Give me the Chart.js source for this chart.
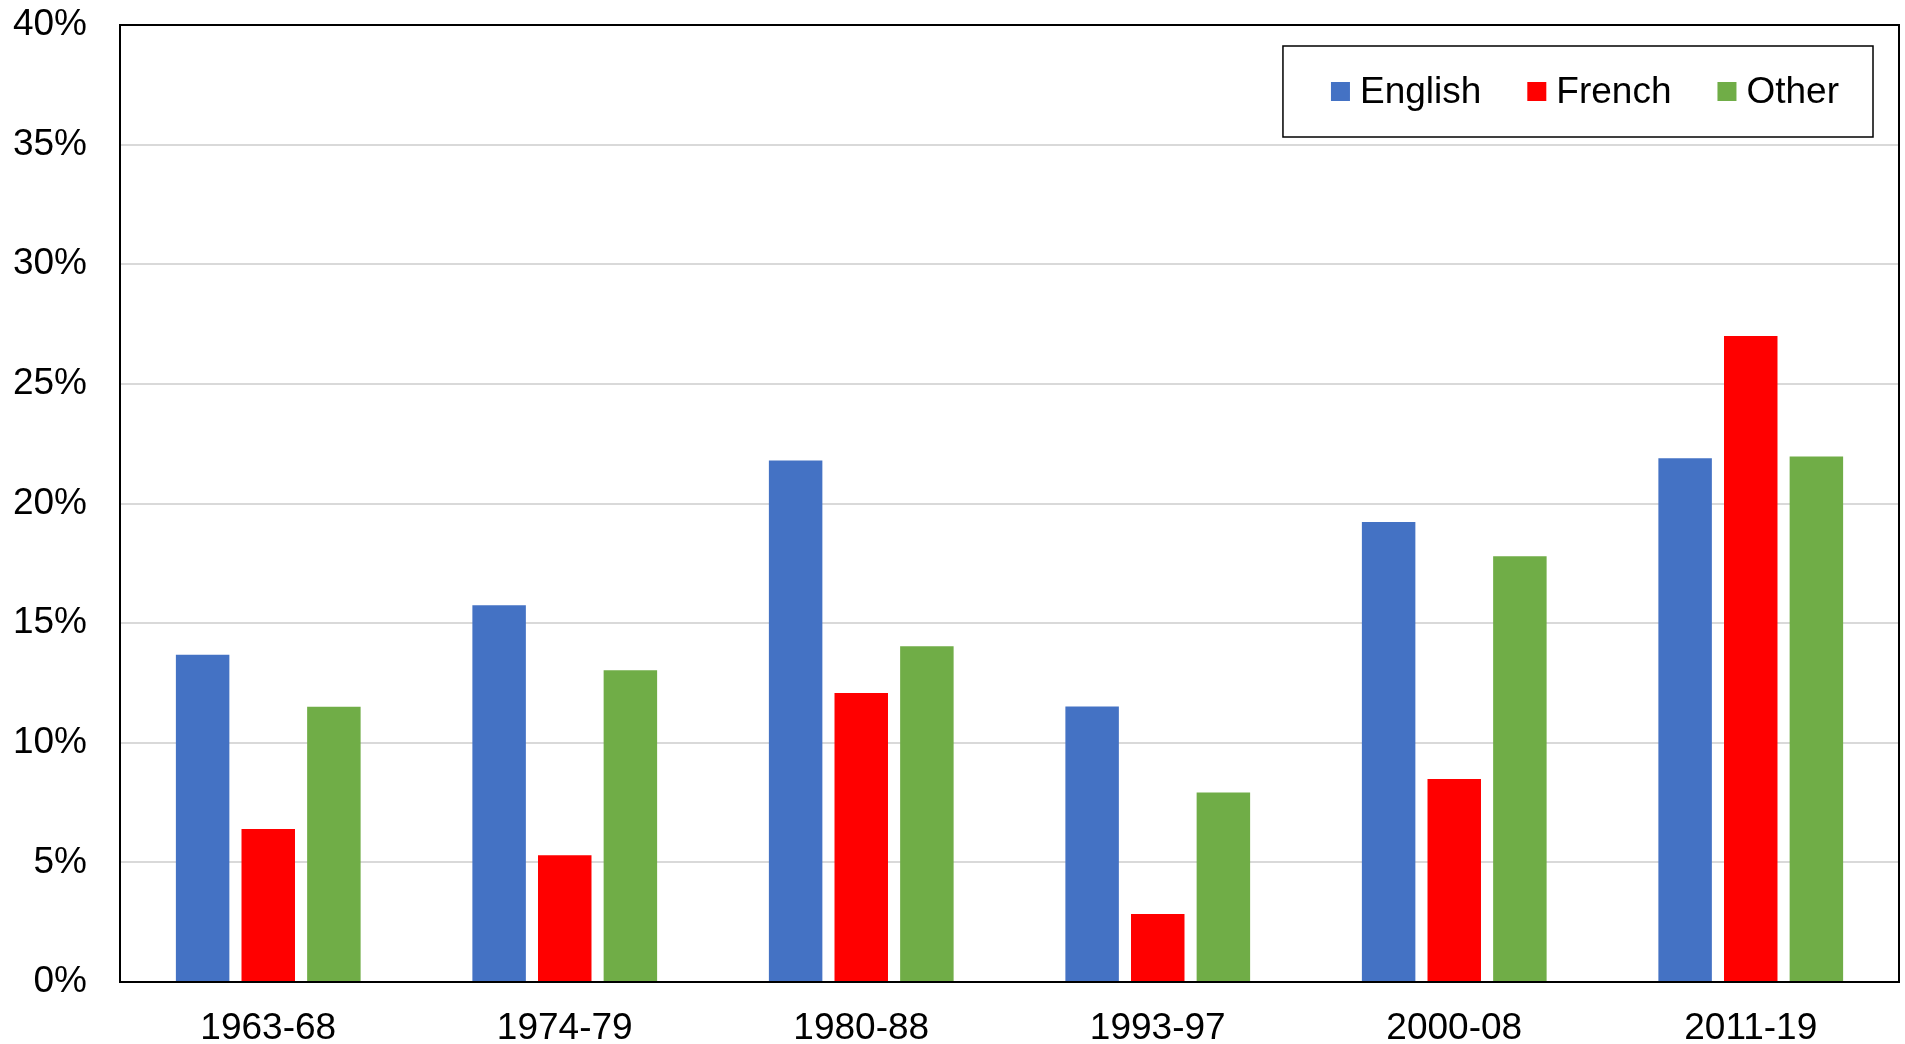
<!DOCTYPE html>
<html>
<head>
<meta charset="utf-8">
<script src="https://cdn.jsdelivr.net/npm/chart.js@4.4.1/dist/chart.umd.min.js"></script>
<style>
    html, body { margin: 0; padding: 0; background: #fff; }
    #wrap { width: 1905px; height: 1044px; }
</style>
</head>
<body>
<div id="wrap"><canvas id="canvas"></canvas></div>
<script>
var periods = ['1963-68', '1974-79', '1980-88', '1993-97', '2000-08', '2011-19'];
var english = [13.68, 15.75, 21.8, 11.52, 19.23, 21.89];
var french = [6.39, 5.3, 12.08, 2.84, 8.48, 27.0];
var other = [11.5, 13.03, 14.03, 7.92, 17.8, 21.96];
var yTicks = [0, 5, 10, 15, 20, 25, 30, 35, 40];

var FONT = '"Liberation Sans", Arial, sans-serif';

// box round the plot + legend inside it, top right
var frameAndLegend = {
    id: 'frameAndLegend',
    afterDraw: function(chart) {
        var ctx = chart.ctx,
            a = chart.chartArea;
        ctx.save();
        ctx.strokeStyle = '#000';
        ctx.lineWidth = 2;
        ctx.strokeRect(a.left, a.top, a.right - a.left, a.bottom - a.top);

        ctx.font = '37px ' + FONT;
        var sets = chart.data.datasets,
            sq = 19, gapSq = 10, gapItem = 46, padL = 48, padR = 34, h = 91;
        var w = padL + padR;
        sets.forEach(function(d, i) {
            w += sq + gapSq + ctx.measureText(d.label).width + (i < sets.length - 1 ? gapItem : 0);
        });
        var bx = a.right - 26 - w,
            by = a.top + 21;
        ctx.fillStyle = '#fff';
        ctx.fillRect(bx, by, w, h);
        ctx.lineWidth = 1.5;
        ctx.strokeRect(bx, by, w, h);

        var x = bx + padL,
            cy = by + h / 2;
        ctx.textBaseline = 'middle';
        ctx.textAlign = 'left';
        sets.forEach(function(d) {
            ctx.fillStyle = d.backgroundColor;
            ctx.fillRect(x, cy - sq / 2, sq, sq);
            x += sq + gapSq;
            ctx.fillStyle = '#000';
            ctx.fillText(d.label, x, cy + 1);
            x += ctx.measureText(d.label).width + gapItem;
        });
        ctx.restore();
    }
};

window.onload = function() {
    var ctx = document.getElementById('canvas').getContext('2d');
    window.myBar = new Chart(ctx, {
        type: 'bar',
        data: {
            labels: periods,
            datasets: [{
                label: 'English',
                backgroundColor: '#4472C4',
                data: english
            }, {
                label: 'French',
                backgroundColor: '#FF0000',
                data: french
            }, {
                label: 'Other',
                backgroundColor: '#70AD47',
                data: other
            }]
        },
        options: {
            responsive: true,
            maintainAspectRatio: false,
            animation: false,
            categoryPercentage: 0.664,
            barPercentage: 0.815,
            layout: {
                padding: { top: 25, right: 6, left: 0, bottom: 0 }
            },
            plugins: {
                legend: { display: false },
                tooltip: { enabled: false }
            },
            scales: {
                x: {
                    grid: { display: false, drawTicks: false },
                    border: { color: '#000', width: 2 },
                    ticks: {
                        color: '#000',
                        padding: 25,
                        font: { family: FONT, size: 37 }
                    },
                    afterFit: function(s) { s.height = 62; s.paddingLeft = 0; s.paddingRight = 0; }
                },
                y: {
                    min: 0,
                    max: 40,
                    afterBuildTicks: function(s) {
                        s.ticks = yTicks.map(function(v) { return { value: v }; });
                    },
                    grid: { color: '#D9D9D9', lineWidth: 2, drawTicks: false },
                    border: { color: '#000', width: 2 },
                    ticks: {
                        color: '#000',
                        padding: 33,
                        font: { family: FONT, size: 37 },
                        callback: function(v) { return v + '%'; }
                    },
                    afterFit: function(s) { s.width = 120; s.paddingTop = 0; s.paddingBottom = 0; }
                }
            }
        },
        plugins: [frameAndLegend]
    });
};
</script>
</body>
</html>
